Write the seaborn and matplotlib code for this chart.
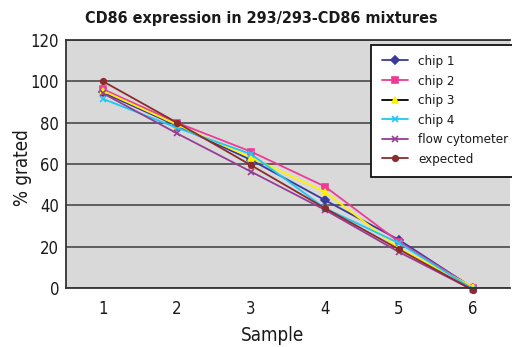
import matplotlib
matplotlib.use("Agg")
import matplotlib.pyplot as plt
from matplotlib.lines import Line2D
import seaborn as sns
import pandas as pd
import numpy as np

# ---- data -------------------------------------------------------------
samples = [1, 2, 3, 4, 5, 6]
chip1 = [94.6, 78.5, 62.0, 42.5, 23.3, 0.0]
chip2 = [96.2, 80.0, 66.0, 49.1, 22.3, 0.0]
chip3 = [95.4, 79.0, 63.1, 46.5, 19.2, 0.5]
chip4 = [91.5, 77.5, 64.8, 38.6, 21.7, -0.5]
flow_cytometer = [94.2, 74.8, 56.3, 37.8, 17.4, -1.0]
expected = [100.0, 80.0, 59.4, 38.6, 18.7, -1.0]
series_names = ["chip 1", "chip 2", "chip 3", "chip 4", "flow cytometer", "expected"]
series_values = [chip1, chip2, chip3, chip4, flow_cytometer, expected]
y_ticks = [0, 20, 40, 60, 80, 100, 120]

# ---- styling ----------------------------------------------------------
colors = {
    "chip 1": "#3a3a9a",
    "chip 2": "#ee3c96",
    "chip 3": "#fff200",
    "chip 4": "#1ec8f2",
    "flow cytometer": "#953d97",
    "expected": "#8c2b2b",
}
markers = {
    "chip 1": "D",
    "chip 2": "s",
    "chip 3": "^",
    "chip 4": "x",
    "flow cytometer": "x",
    "expected": "o",
}
msizes = {"chip 1": 4, "chip 2": 5, "chip 3": 5, "chip 4": 5,
          "flow cytometer": 5, "expected": 4}

sns.set_theme(style="white")
plt.rcParams["font.family"] = ["DejaVu Sans"]
plt.rcParams["font.stretch"] = "condensed"
plt.rcParams["text.color"] = "#1a1a1a"
plt.rcParams["axes.labelcolor"] = "#1a1a1a"
plt.rcParams["xtick.color"] = "#1a1a1a"
plt.rcParams["ytick.color"] = "#1a1a1a"

df = pd.DataFrame({
    "Sample": np.tile(samples, len(series_names)),
    "value": np.concatenate(series_values),
    "series": np.repeat(series_names, len(samples)),
})

fig = plt.figure(figsize=(5.12, 3.47), dpi=100)
ax = fig.add_axes([66 / 512, 1 - 288 / 347, 444 / 512, 248 / 347])
ax.set_facecolor("#d9d9d9")

for name in series_names:
    sub = df[df["series"] == name]
    sns.lineplot(data=sub, x="Sample", y="value", color=colors[name],
                 marker=markers[name], markersize=msizes[name],
                 markeredgecolor=colors[name], markerfacecolor=colors[name],
                 markeredgewidth=1.2, linewidth=1.3, ax=ax, sort=False,
                 legend=False, clip_on=False)

ax.set_xlim(0.5, 6.5)
ax.set_ylim(0, 120)
ax.set_yticks(y_ticks)
ax.set_yticklabels([str(t) for t in y_ticks], fontsize=12)
ax.set_xticks(samples)
ax.set_xticklabels([str(s) for s in samples], fontsize=12)
ax.set_xticks(np.arange(0.5, 7.0, 1.0), minor=True)
ax.tick_params(axis="x", which="major", length=0, pad=9)
ax.tick_params(axis="x", which="minor", length=4, direction="in",
               width=1.0, color="#444444")
ax.tick_params(axis="y", which="major", length=3, direction="out",
               width=1.0, color="#444444", pad=2)
ax.yaxis.grid(True, color="#555555", linewidth=1.3)
ax.set_axisbelow(True)

for side in ["left", "bottom", "top"]:
    ax.spines[side].set_visible(True)
    ax.spines[side].set_color("#333333")
    ax.spines[side].set_linewidth(1.3)
ax.spines["right"].set_visible(False)

ax.set_xlabel("Sample", fontsize=13.5)
ax.xaxis.set_label_coords(0.466, -0.155)
ax.set_ylabel("% grated", fontsize=13.5)
ax.yaxis.set_label_coords(-0.076, 0.485)

fig.text(0.51, 0.946, "CD86 expression in 293/293-CD86 mixtures",
         ha="center", va="center", fontsize=11.5, fontweight="bold")

# legend: chip 3 shown with a black line behind its yellow marker
handles = []
for name in series_names:
    line_color = "black" if name == "chip 3" else colors[name]
    handles.append(Line2D([0], [0], color=line_color, linewidth=1.3,
                          marker=markers[name], markersize=msizes[name],
                          markerfacecolor=colors[name],
                          markeredgecolor=colors[name], markeredgewidth=1.2))
leg = ax.legend(handles, series_names, loc="upper left",
                bbox_to_anchor=((371 - 66) / 444, (288 - 44.5) / 248),
                frameon=True, fancybox=False, fontsize=9.5,
                handlelength=2.0, handletextpad=0.8, labelspacing=0.5,
                borderpad=0.8, borderaxespad=0)
leg.get_frame().set_edgecolor("#111111")
leg.get_frame().set_linewidth(1.3)
leg.get_frame().set_facecolor("white")
leg.get_frame().set_alpha(1)

fig.savefig("out.png", dpi=100)
